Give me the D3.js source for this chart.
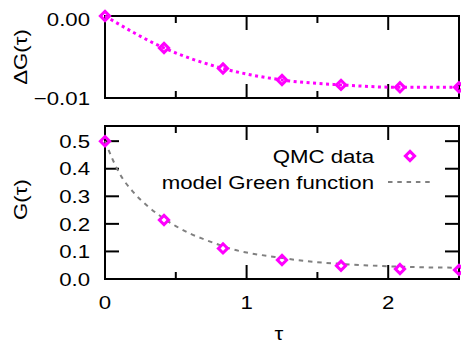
<!DOCTYPE html>
<html>
<head>
<meta charset="utf-8">
<script src="https://cdn.jsdelivr.net/npm/d3@7"></script>
<style>
body { margin:0; background:#fff; }
text { font-family:"Liberation Sans", Arial, sans-serif; fill:#000; }
</style>
</head>
<body>
<script>
// QMC data points
const tau = [0, 0.4167, 0.8333, 1.25, 1.6667, 2.0833, 2.5];
const deltaG = [0, -0.0039, -0.0064, -0.0078, -0.0084, -0.0087, -0.0087];
const qmcG = [0.5, 0.214, 0.111, 0.069, 0.048, 0.036, 0.033];

// model Green function
const modelTau = [0, 0.1, 0.2, 0.3, 0.4, 0.5, 0.6, 0.7, 0.8, 0.9, 1.0, 1.2, 1.4, 1.6, 1.8, 2.0, 2.2, 2.5];
const modelG = [0.5, 0.385, 0.315, 0.265, 0.225, 0.192, 0.165, 0.144, 0.125, 0.108, 0.096, 0.08, 0.066, 0.057, 0.051, 0.046, 0.043, 0.041];

// ticks
const topYTicks = [0, -0.01];
const botYTicks = [0, 0.1, 0.2, 0.3, 0.4, 0.5];
const xMajor = [0, 1, 2];
const xMinor = [0.5, 1.5, 2.5];

const width = 461, height = 345;
const left = 105, right = 459;
const top1 = 16, bot1 = 98;
const top2 = 126, bot2 = 279;
const fs = 19, sx = 1.17;
const magenta = "#ff00ff";

const svg = d3.select("body").append("svg")
  .attr("width", width).attr("height", height);

const x = d3.scaleLinear().domain([0, 2.5]).range([left, right]);
const y1 = d3.scaleLinear().domain([-0.01, 0]).range([bot1, top1]);
const y2 = d3.scaleLinear().domain([0, 0.555]).range([bot2, top2]);

function label(px, py, str, anchor, rot) {
  svg.append("text")
    .attr("transform", "translate(" + px + "," + py + ")" + (rot ? " rotate(" + rot + ")" : "") + " scale(" + sx + ",1)")
    .attr("text-anchor", anchor)
    .attr("dy", "0.35em")
    .attr("font-size", fs + "px")
    .text(str);
}

function tick(x1, y1_, x2, y2_) {
  svg.append("line")
    .attr("x1", x1).attr("y1", y1_).attr("x2", x2).attr("y2", y2_)
    .attr("stroke", "#000").attr("stroke-width", 2);
}

function diamond(g, px, py) {
  const s = 4.6;
  g.append("path")
    .attr("d", "M" + px + "," + (py - s) + "L" + (px + s) + "," + py + "L" + px + "," + (py + s) + "L" + (px - s) + "," + py + "Z")
    .attr("fill", "none").attr("stroke", magenta).attr("stroke-width", 3);
}

function frame(t, b) {
  xMajor.forEach(function(v){ tick(x(v), b, x(v), b - 14); tick(x(v), t, x(v), t + 14); });
  xMinor.forEach(function(v){ tick(x(v), b, x(v), b - 7); tick(x(v), t, x(v), t + 7); });
  svg.append("rect")
    .attr("x", left).attr("y", t).attr("width", right - left).attr("height", b - t)
    .attr("fill", "none").attr("stroke", "#000").attr("stroke-width", 2);
}

// ---- top panel ----
frame(top1, bot1);
topYTicks.forEach(function(v){
  label(left - 15, y1(v) + (v === 0 ? 3 : 0), d3.format(".2f")(v), "end");
});

const pts1 = tau.map(function(t, i){ return [t, deltaG[i]]; });
svg.append("path")
  .datum(pts1)
  .attr("d", d3.line().x(function(d){ return x(d[0]); }).y(function(d){ return y1(d[1]); }).curve(d3.curveMonotoneX))
  .attr("fill", "none").attr("stroke", magenta).attr("stroke-width", 3)
  .attr("stroke-dasharray", "3,3.5");
const m1 = svg.append("g");
pts1.forEach(function(d){ diamond(m1, x(d[0]), y1(d[1])); });

label(20, (top1 + bot1) / 2, "ΔG(τ)", "middle", -90);

// ---- bottom panel ----
frame(top2, bot2);
botYTicks.forEach(function(v){
  tick(left, y2(v), left + 14, y2(v));
  tick(right, y2(v), right - 14, y2(v));
  label(left - 15, y2(v), d3.format(".1f")(v), "end");
});
xMajor.forEach(function(v){ label(x(v), bot2 + 23.5, String(v), "middle"); });

const pts2 = modelTau.map(function(t, i){ return [t, modelG[i]]; });
svg.append("path")
  .datum(pts2)
  .attr("d", d3.line().x(function(d){ return x(d[0]); }).y(function(d){ return y2(d[1]); }).curve(d3.curveMonotoneX))
  .attr("fill", "none").attr("stroke", "#808080").attr("stroke-width", 2)
  .attr("stroke-dasharray", "4.5,4.8");

const m2 = svg.append("g");
tau.forEach(function(t, i){ diamond(m2, x(t), y2(qmcG[i])); });

label(20, (top2 + bot2) / 2 - 3, "G(τ)", "middle", -90);
label((left + right) / 2 - 3, 333, "τ", "middle");

// legend
label(374, 156, "QMC data", "end");
diamond(svg, 410, 156);
label(374, 182, "model Green function", "end");
svg.append("line")
  .attr("x1", 388).attr("x2", 432).attr("y1", 182).attr("y2", 182)
  .attr("stroke", "#808080").attr("stroke-width", 2)
  .attr("stroke-dasharray", "4.5,4.8");
</script>
</body>
</html>
